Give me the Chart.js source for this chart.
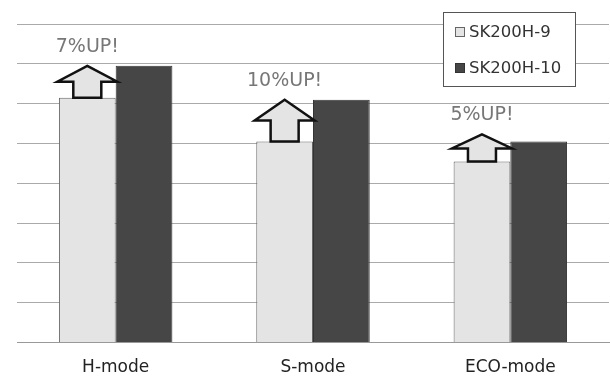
<!DOCTYPE html>
<html>
<head>
<meta charset="utf-8">
<script src="https://cdn.jsdelivr.net/npm/chart.js@4"></script>
<style>
  html, body { margin: 0; padding: 0; background: #fff; }
  #wrap { width: 610px; height: 378px; }
</style>
</head>
<body>
<div id="wrap"><canvas id="c"></canvas></div>
<script>
// values (no axis labels shown, grid of 8 steps)
const categories = ['H-mode', 'S-mode', 'ECO-mode'];
const seriesNames = ['SK200H-9', 'SK200H-10'];
const oldValues = [6.15, 5.05, 4.55];
const newValues = [6.95, 6.1, 5.05];
const upLabels = ['7%UP!', '10%UP!', '5%UP!'];

const FONT = '"DejaVu Sans", Verdana, sans-serif';

// block arrows from the old bar top up towards the new one, plus the "UP!" text
const upArrows = {
  id: 'upArrows',
  afterDatasetsDraw(chart) {
    const ctx = chart.ctx;
    const lo = chart.getDatasetMeta(0).data;
    const hi = chart.getDatasetMeta(1).data;
    ctx.save();
    lo.forEach((bar, i) => {
      const base = bar.y;
      const tip = Math.min(hi[i].y, base - 27);
      const cx = bar.x;
      const h = base - tip;
      const headH = Math.max(14, h * 0.5);
      const headW = 30;
      const shaftW = 14;
      ctx.beginPath();
      ctx.moveTo(cx, tip);
      ctx.lineTo(cx + headW, tip + headH);
      ctx.lineTo(cx + shaftW, tip + headH);
      ctx.lineTo(cx + shaftW, base);
      ctx.lineTo(cx - shaftW, base);
      ctx.lineTo(cx - shaftW, tip + headH);
      ctx.lineTo(cx - headW, tip + headH);
      ctx.closePath();
      ctx.fillStyle = '#e4e4e4';
      ctx.fill();
      ctx.lineWidth = 2.5;
      ctx.strokeStyle = '#111';
      ctx.lineJoin = 'miter';
      ctx.stroke();

      ctx.fillStyle = '#777';
      ctx.font = '19px ' + FONT;
      ctx.textAlign = 'center';
      ctx.textBaseline = 'middle';
      ctx.fillText(upLabels[i], cx, tip - 19);
    });
    ctx.restore();
  }
};

// boxed legend drawn inside the plot, top right
const boxLegend = {
  id: 'boxLegend',
  afterDraw(chart) {
    const ctx = chart.ctx;
    const x = 443, y = 12, w = 132, h = 74;
    ctx.save();
    ctx.fillStyle = '#fff';
    ctx.fillRect(x, y, w, h);
    ctx.strokeStyle = '#555';
    ctx.lineWidth = 1;
    ctx.strokeRect(x + 0.5, y + 0.5, w, h);
    ctx.font = '16.5px ' + FONT;
    ctx.textBaseline = 'middle';
    ctx.textAlign = 'left';
    chart.data.datasets.forEach((ds, i) => {
      const cy = y + 20 + i * 36;
      ctx.fillStyle = ds.backgroundColor;
      ctx.fillRect(x + 12.5, cy - 4.5, 9, 9);
      ctx.strokeStyle = ds.borderColor;
      ctx.strokeRect(x + 12.5, cy - 4.5, 9, 9);
      ctx.fillStyle = '#333';
      ctx.fillText(ds.label, x + 26, cy + 1);
    });
    ctx.restore();
  }
};

new Chart(document.getElementById('c'), {
  type: 'bar',
  data: {
    labels: categories,
    datasets: [
      {
        label: seriesNames[0],
        data: oldValues,
        backgroundColor: '#e4e4e4',
        borderColor: '#666',
        borderWidth: 1,
      },
      {
        label: seriesNames[1],
        data: newValues,
        backgroundColor: '#464646',
        borderColor: '#333',
        borderWidth: 1,
      },
    ],
  },
  options: {
    responsive: true,
    maintainAspectRatio: false,
    animation: false,
    layout: { padding: { top: 24, left: 17, right: 1, bottom: -15 } },
    categoryPercentage: 0.575,
    barPercentage: 1.0,
    plugins: {
      legend: { display: false },
      tooltip: { enabled: false },
    },
    scales: {
      x: {
        grid: { display: false, drawTicks: false },
        border: { color: '#999' },
        ticks: { color: '#222', font: { family: FONT, size: 17 }, padding: 15 },
      },
      y: {
        min: 0,
        max: 8,
        ticks: { display: false, stepSize: 1 },
        grid: { color: '#aaa', drawTicks: false },
        border: { display: false },
      },
    },
  },
  plugins: [upArrows, boxLegend],
});
</script>
</body>
</html>
